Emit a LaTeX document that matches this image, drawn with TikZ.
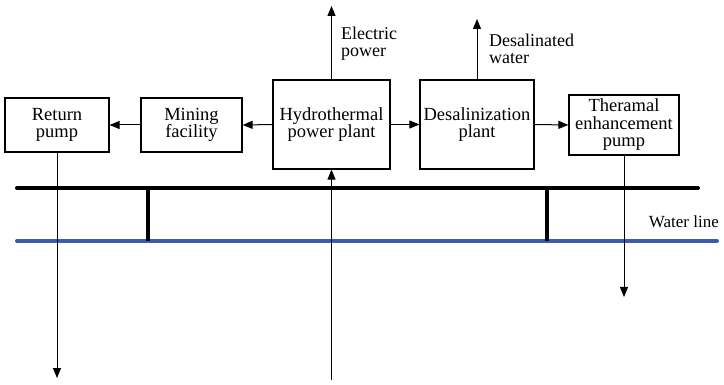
\documentclass[tikz,border=0pt]{standalone}
\usepackage{fontspec}
\setmainfont{Liberation Serif}
\newfontfamily\timesfont{Liberation Serif}
\usetikzlibrary{arrows.meta}
\definecolor{waterblue}{RGB}{60,92,170}
\begin{document}
\begin{tikzpicture}[x=1pt, y=-1pt,
    unit/.style={draw, line width=1.2pt, align=center, inner sep=1pt,
      font=\timesfont\fontsize{18.5}{17.5}\selectfont},
    flow/.style={line width=1pt, -{Triangle[length=10pt,width=8pt]}},
    label/.style={align=left, anchor=north west, inner sep=0pt,
      font=\timesfont\fontsize{18}{17}\selectfont}]
  \useasboundingbox (0,0) rectangle (724,385);
  % plant units
  \node[unit, minimum width=104pt, minimum height=54pt] (ret) at (57,125) {Return\\pump};
  \node[unit, minimum width=101pt, minimum height=54pt] (mine) at (191.5,125) {Mining\\facility};
  \node[unit, minimum width=117pt, minimum height=89pt] (hydro) at (331.5,124.5) {Hydrothermal\\power plant};
  \node[unit, minimum width=114pt, minimum height=89pt] (desal) at (477,124.5) {Desalinization\\plant};
  \node[unit, minimum width=110pt, minimum height=60pt] (therm) at (624,125) {Theramal\\enhancement\\pump};
  % free ends
  \coordinate (power) at (331.5,6);
  \coordinate (fresh) at (477,19);
  \coordinate (sink) at (57,378);
  \coordinate (source) at (331.5,380);
  \coordinate (inject) at (624,297);
  % pipe lines
  \draw[line width=4pt, line cap=round] (17,188) -- (698,188);
  \draw[waterblue, line width=4pt, line cap=round] (17,241) -- (717,241);
  \draw[line width=3.5pt] (148,188) -- (148,241);
  \draw[line width=3.5pt] (547,188) -- (547,241);
  \node[anchor=south east, inner sep=0pt, font=\timesfont\fontsize{17}{17}\selectfont] (wl) at (719,228) {Water line};
  % flows
  \draw[flow] (hydro.west) -- (mine.east);
  \draw[flow] (mine.west) -- (ret.east);
  \draw[flow] (hydro.east) -- (desal.west);
  \draw[flow] (desal.east) -- (therm.west);
  \draw[flow] (hydro.north) -- (power);
  \draw[flow] (desal.north) -- (fresh);
  \draw[flow] (ret.south) -- (sink);
  \draw[flow] (source) -- (hydro.south);
  \draw[flow] (therm.south) -- (inject);
  \node[label] (ep) at (341,27) {Electric\\power};
  \node[label] (dw) at (489,34) {Desalinated\\water};
\end{tikzpicture}
\end{document}
